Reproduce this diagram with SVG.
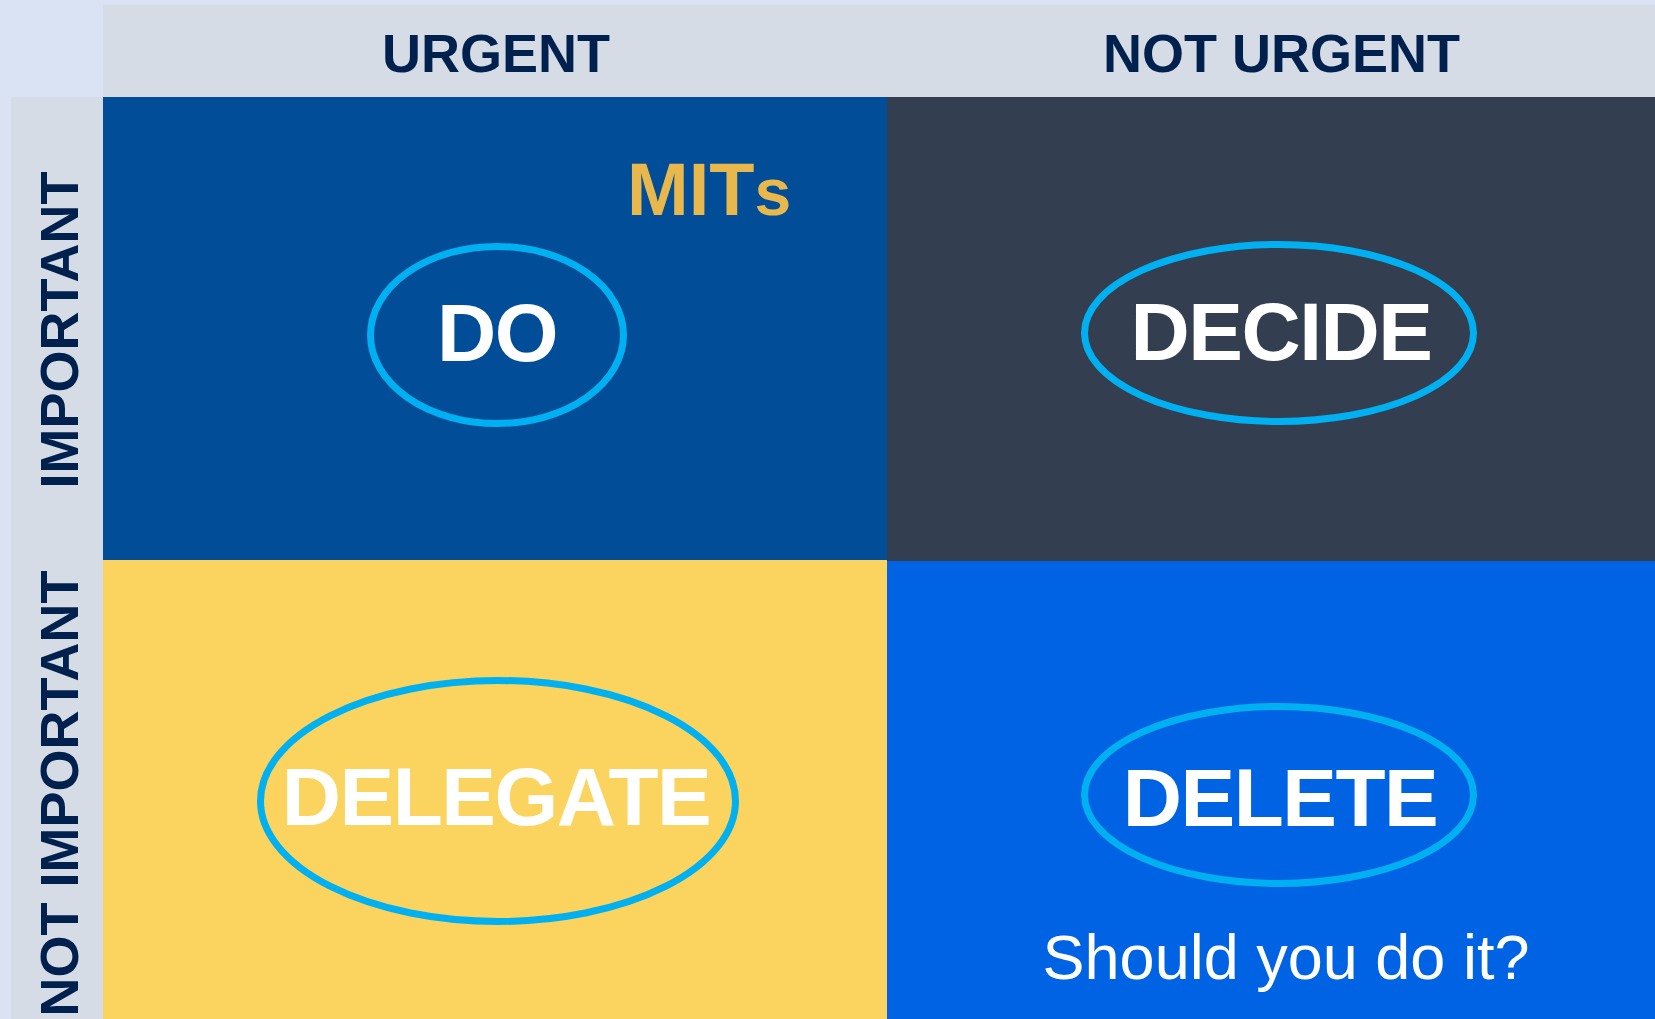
<svg xmlns="http://www.w3.org/2000/svg" width="1655" height="1019" viewBox="0 0 1655 1019">
  <style>
    .hdr { font-family: "Liberation Sans", Arial, sans-serif; font-weight: bold; font-size: 54px; fill: #00204e; text-anchor: middle; }
    .big { font-family: "Liberation Sans", Arial, sans-serif; font-weight: bold; font-size: 82px; fill: #ffffff; text-anchor: middle; letter-spacing: -1.5px; }
    .ring { fill: none; stroke: #00b0f0; stroke-width: 7; }
    .sub { font-family: "Liberation Sans", Arial, sans-serif; font-size: 63px; fill: #ffffff; text-anchor: middle; }
    .mits { font-family: "Liberation Sans", Arial, sans-serif; font-weight: bold; font-size: 74px; fill: #e9b84c; }
  </style>
  <rect x="0" y="0" width="1655" height="1019" fill="#dae3f3"/>

  <g id="header-urgent">
    <rect x="103" y="5" width="784" height="92" fill="#d6dce5"/>
    <text class="hdr" x="496" y="72">URGENT</text>
  </g>
  <g id="header-not-urgent">
    <rect x="887" y="5" width="768" height="92" fill="#d6dce5"/>
    <text class="hdr" x="1281.5" y="72">NOT URGENT</text>
  </g>
  <g id="side-important">
    <rect x="11" y="97" width="92" height="463" fill="#d6dce5"/>
    <text class="hdr" transform="translate(78,330) rotate(-90)" x="0" y="0">IMPORTANT</text>
  </g>
  <g id="side-not-important">
    <rect x="11" y="560" width="92" height="459" fill="#d6dce5"/>
    <text class="hdr" transform="translate(78,793.5) rotate(-90)" x="0" y="0">NOT IMPORTANT</text>
  </g>

  <g id="quadrant-do">
    <rect x="103" y="97" width="784" height="463" fill="#014d98"/>
    <text class="mits" x="627" y="215">MIT<tspan font-size="66">s</tspan></text>
    <ellipse class="ring" cx="497" cy="335" rx="126.5" ry="88.5"/>
    <text class="big" x="497" y="361" font-size="84">DO</text>
  </g>
  <g id="quadrant-decide">
    <rect x="887" y="97" width="768" height="464" fill="#333f50"/>
    <ellipse class="ring" cx="1279" cy="333" rx="194.5" ry="88.5"/>
    <text class="big" x="1281" y="360">DECIDE</text>
  </g>
  <g id="quadrant-delegate">
    <rect x="103" y="560" width="784" height="459" fill="#fad45e"/>
    <ellipse class="ring" cx="498" cy="801" rx="237.5" ry="120.5"/>
    <text class="big" x="496" y="825">DELEGATE</text>
  </g>
  <g id="quadrant-delete">
    <rect x="887" y="561" width="768" height="458" fill="#0063e3"/>
    <ellipse class="ring" cx="1279" cy="795" rx="194.5" ry="88.5"/>
    <text class="big" x="1280" y="826" font-size="84">DELETE</text>
    <text class="sub" x="1286" y="979">Should you do it?</text>
  </g>

  <g id="connectors"/>
</svg>
